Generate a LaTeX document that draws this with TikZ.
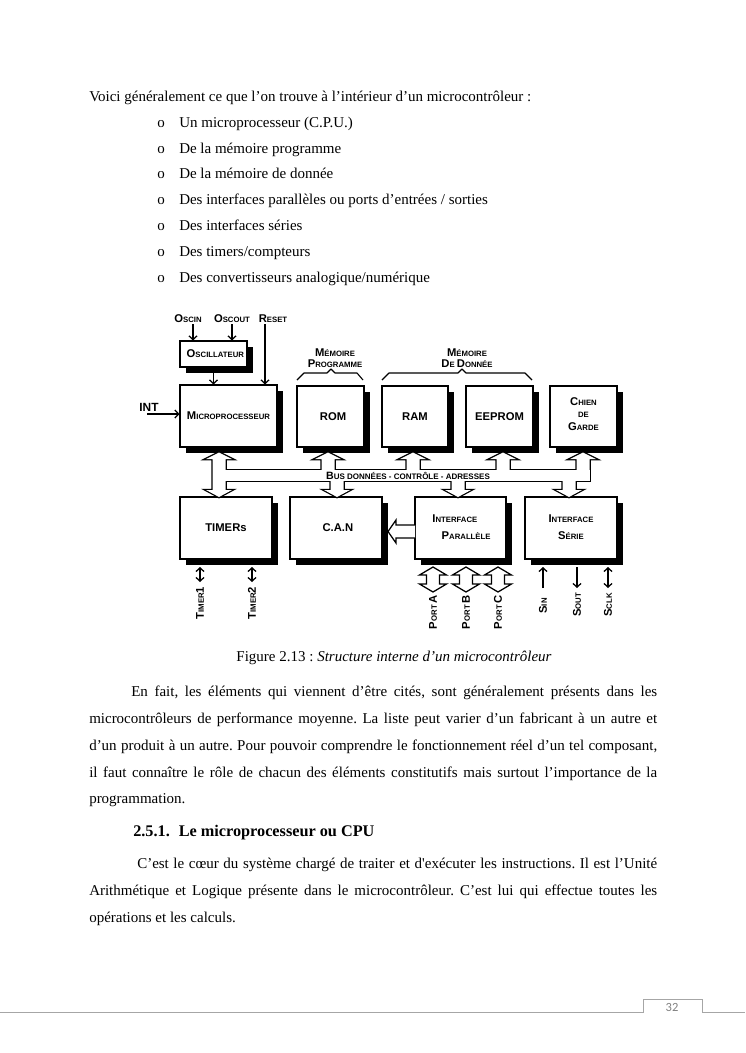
\documentclass[tikz,border=0pt]{standalone}
\usepackage{fontspec}
\setmainfont{Liberation Serif}
\newfontfamily\dfont{Liberation Sans}
\newfontfamily\pfont{Carlito}
\usetikzlibrary{arrows.meta,shadows,fit}
\frenchspacing
\newcommand\SC[2]{{\fontsize{9}{9}\selectfont #1}{\fontsize{6.2}{7}\selectfont #2}}
\newcommand\BIG[1]{{\fontsize{9}{9}\selectfont #1}}
\newcommand\busshapes[1]{%
 #1 (219,470) rectangle (589.5,481);
 #1 (212.5,459) -- (206,459) -- (219,452.5) -- (232,459) -- (225.5,459) -- (225.5,490) -- (232,490) -- (219,497) -- (206,490) -- (212.5,490) -- cycle;
 \foreach \c in {328,413,503,583} {#1 (\c-6.5,476) -- (\c-6.5,459) -- (\c-13,459) -- (\c,452.5) -- (\c+13,459) -- (\c+6.5,459) -- (\c+6.5,476) -- cycle;}
 \foreach \c in {337,458,569} {#1 (\c-6.5,475) -- (\c-6.5,490) -- (\c-13,490) -- (\c,497) -- (\c+13,490) -- (\c+6.5,490) -- (\c+6.5,475) -- cycle;}
}
\begin{document}
\begin{tikzpicture}[x=0.8pt,y=-0.8pt,
  txt/.style={anchor=base west, inner sep=0pt, font=\fontsize{12}{14.4}\selectfont},
  lbl/.style={inner sep=0pt, align=center, font=\dfont\bfseries\fontsize{9}{8.5}\selectfont},
  box/.style={draw, line width=0.9pt, fill=white, inner sep=0pt,
    drop shadow={shadow xshift=5pt, shadow yshift=-5pt, opacity=1, fill=black}},
  arr/.style={line width=1pt, -{Straight Barb[length=3pt,width=6.5pt]}},
  darr/.style={line width=1pt, {Straight Barb[length=3pt,width=6.5pt]}-{Straight Barb[length=3pt,width=6.5pt]}},
  hollow/.style={line width=1pt, fill=white, line join=miter},
]
\useasboundingbox[fill=white] (0,0) rectangle (745,1053);

% ---------- text above ----------
\node[txt] (intro) at (89,101) {Voici généralement ce que l’on trouve à l’intérieur d’un microcontrôleur :};
\node[txt] (o1) at (157,127) {o}; \node[txt] (i1) at (179,127) {Un microprocesseur (C.P.U.)};
\node[txt] (o2) at (157,153) {o}; \node[txt] (i2) at (179,153) {De la mémoire programme};
\node[txt] (o3) at (157,178) {o}; \node[txt] (i3) at (179,178) {De la mémoire de donnée};
\node[txt] (o4) at (157,204) {o}; \node[txt] (i4) at (179,204) {Des interfaces parallèles ou ports d’entrées / sorties};
\node[txt] (o5) at (157,230) {o}; \node[txt] (i5) at (179,230) {Des interfaces séries};
\node[txt] (o6) at (157,256) {o}; \node[txt] (i6) at (179,256) {Des timers/compteurs};
\node[txt] (o7) at (157,282) {o}; \node[txt] (i7) at (179,282) {Des convertisseurs analogique/numérique};

% ---------- diagram: boxes ----------
\node[box, fit={(180,341)(247,367)}] (osc) {};
\node[box, fit={(180,385)(277,447)}] (micro) {};
\node[box, fit={(297,386)(364,447)}] (rom) {};
\node[box, fit={(382,386)(448,447)}] (ram) {};
\node[box, fit={(466,386)(533,447)}] (eeprom) {};
\node[box, fit={(550,386)(617,447)}] (chien) {};
\node[box, fit={(180,497)(272,559)}] (timers) {};
\node[box, fit={(290,497)(382,559)}] (can) {};
\node[box, fit={(415,497)(506,559)}] (par) {};
\node[box, fit={(525,497)(617,559)}] (ser) {};
\node[lbl] (oscT) at ([xshift=1.5pt]osc.center) {\SC{O}{SCILLATEUR}};
\node[lbl] (microT) at (micro.center) {\SC{M}{ICROPROCESSEUR}};
\node[lbl] (romT) at ([xshift=2pt]rom.center) {ROM};
\node[lbl] (ramT) at (ram.center) {RAM};
\node[lbl] (eepromT) at (eeprom.center) {EEPROM};
\node[lbl] (chienT) at ([yshift=2pt]chien.center) {\SC{C}{HIEN}\\[1pt]\SC{}{DE}\\[1.5pt]\SC{G}{ARDE}};
\node[lbl] (timersT) at (timers.center) {TIMERs};
\node[lbl] (canT) at ([xshift=1.5pt]can.center) {C.A.N};
\node[lbl] (parT) at ([yshift=1pt]par.center) {\SC{I}{NTERFACE}\hspace*{9pt}\\[5pt]\hspace*{9pt}\SC{P}{ARALLÈLE}};
\node[lbl] (serT) at ([yshift=1pt]ser.center) {\SC{I}{NTERFACE}\\[5pt]\SC{S}{ÉRIE}};

% ---------- top labels and arrows ----------
\node[lbl] (oscin) at (188,319) {\SC{O}{SCIN}};
\node[lbl] (oscout) at (232,319) {\SC{O}{SCOUT}};
\node[lbl] (reset) at (273,319) {\SC{R}{ESET}};
\draw[arr] ([xshift=4pt,yshift=-1pt]oscin.south) -- ([xshift=4pt]oscin.south |- osc.north);
\draw[arr] ([yshift=-1pt]oscout.south) -- (oscout.south |- osc.north);
\draw[arr] ([xshift=-6.4pt,yshift=-1pt]reset.south) -- ([xshift=-6.4pt]reset.south |- micro.north);
\draw[arr] (osc.south) -- (osc.south |- micro.north);
\node[lbl, font=\dfont\bfseries\fontsize{9.5}{10}\selectfont] (int) at (149,407) {INT};
\coordinate (intS) at (147,414);
\draw[arr] (intS) -- (intS -| micro.west);

\node[lbl] (mprog) at (335,358) {\SC{M}{ÉMOIRE}\\[0.5pt]\SC{P}{ROGRAMME}};
\node[lbl] (mdata) at (467,358) {\SC{M}{ÉMOIRE}\\[0.5pt]\SC{D}{E }\SC{D}{ONNÉE}};
\draw[line width=0.9pt, line join=round] (297,380) -- (304,373) -- (327,373) -- (331,369) -- (335,373) -- (357,373) -- (363,380);
\draw[line width=0.9pt, line join=round] (382,380) -- (389,373) -- (458,373) -- (462,369) -- (466,373) -- (525,373) -- (532,380);

% ---------- bus ----------
\busshapes{\draw[line width=2pt]}
\busshapes{\fill[white]}
\node[lbl] (bus) at (408,476) {{\fontsize{8.5}{8}\selectfont B}{\fontsize{6.4}{7}\selectfont US DONNÉES - CONTRÔLE - ADRESSES}};

% ---------- parallel -> CAN ----------
\draw[hollow] (415,525) -- (396,525) -- (396,520) -- (388,531.5) -- (396,543) -- (396,538) -- (415,538);

% ---------- ports ----------
\foreach \c in {433,466,498} {
  \draw[hollow] (\c,567) -- (\c+13.5,575) -- (\c+6.5,575) -- (\c+6.5,584) -- (\c+13.5,584) -- (\c,592) -- (\c-13.5,584) -- (\c-6.5,584) -- (\c-6.5,575) -- (\c-13.5,575) -- cycle;
}
\node[lbl, rotate=90] (pa) at (433,612) {\SC{P}{ORT }\BIG{A}};
\node[lbl, rotate=90] (pb) at (466,612) {\SC{P}{ORT }\BIG{B}};
\node[lbl, rotate=90] (pc) at (498,612) {\SC{P}{ORT }\BIG{C}};

% ---------- timers ----------
\coordinate (t1a) at (200,567); \coordinate (t1b) at (200,582);
\coordinate (t2a) at (252,567); \coordinate (t2b) at (252,582);
\draw[darr] (t1a) -- (t1b);
\draw[darr] (t2a) -- (t2b);
\node[lbl, rotate=90] (tm1) at (200,603) {\SC{T}{IMER}\BIG{1}};
\node[lbl, rotate=90] (tm2) at (252,603) {\SC{T}{IMER}\BIG{2}};

% ---------- serial ----------
\coordinate (sina) at (543,588); \coordinate (sinb) at (543,567);
\coordinate (souta) at (577,567); \coordinate (soutb) at (577,588);
\coordinate (sclka) at (608,567); \coordinate (sclkb) at (608,588);
\draw[arr] (sina) -- (sinb);
\draw[arr] (souta) -- (soutb);
\draw[darr] (sclka) -- (sclkb);
\node[lbl, rotate=90] (sin) at (543,606) {\SC{S}{IN}};
\node[lbl, rotate=90] (sout) at (577,605) {\SC{S}{OUT}};
\node[lbl, rotate=90] (sclk) at (608,605) {\SC{S}{CLK}};

% ---------- text below ----------
\node[txt, anchor=base] (cap) at (394,661) {Figure 2.13 : \textit{Structure interne d’un microcontrôleur}};
\node[txt] (p1a) at (131,696) {\makebox[420.8pt][s]{En fait, les éléments qui viennent d’être cités, sont généralement présents dans les}};
\node[txt] (p1b) at (89,723) {\makebox[454.4pt][s]{microcontrôleurs de performance moyenne. La liste peut varier d’un fabricant à un autre et}};
\node[txt] (p1c) at (89,750) {\makebox[454.4pt][s]{d’un produit à un autre. Pour pouvoir comprendre le fonctionnement réel d’un tel composant,}};
\node[txt] (p1d) at (89,777) {\makebox[454.4pt][s]{il faut connaître le rôle de chacun des éléments constitutifs mais surtout l’importance de la}};
\node[txt] (p1e) at (89,803) {programmation.};
\node[txt, font=\bfseries\fontsize{13}{15}\selectfont] (h251) at (133,836) {2.5.1.\hspace{0.55em}Le microprocesseur ou CPU};
\node[txt] (p2a) at (137,868) {\makebox[416pt][s]{C’est le cœur du système chargé de traiter et d\textquotesingle exécuter les instructions. Il est l’Unité}};
\node[txt] (p2b) at (89,895) {\makebox[454.4pt][s]{Arithmétique et Logique présente dans le microcontrôleur. C’est lui qui effectue toutes les}};
\node[txt] (p2c) at (89,922) {opérations et les calculs.};

% ---------- footer ----------
\draw[gray!70, line width=0.6pt] (0,1012) -- (643,1012) -- (643,999) -- (702,999) -- (702,1012) -- (745,1012);
\node[inner sep=0pt, text=gray, font=\pfont\fontsize{10}{10}\selectfont] (pg) at (672,1007) {32};
\end{tikzpicture}
\end{document}
